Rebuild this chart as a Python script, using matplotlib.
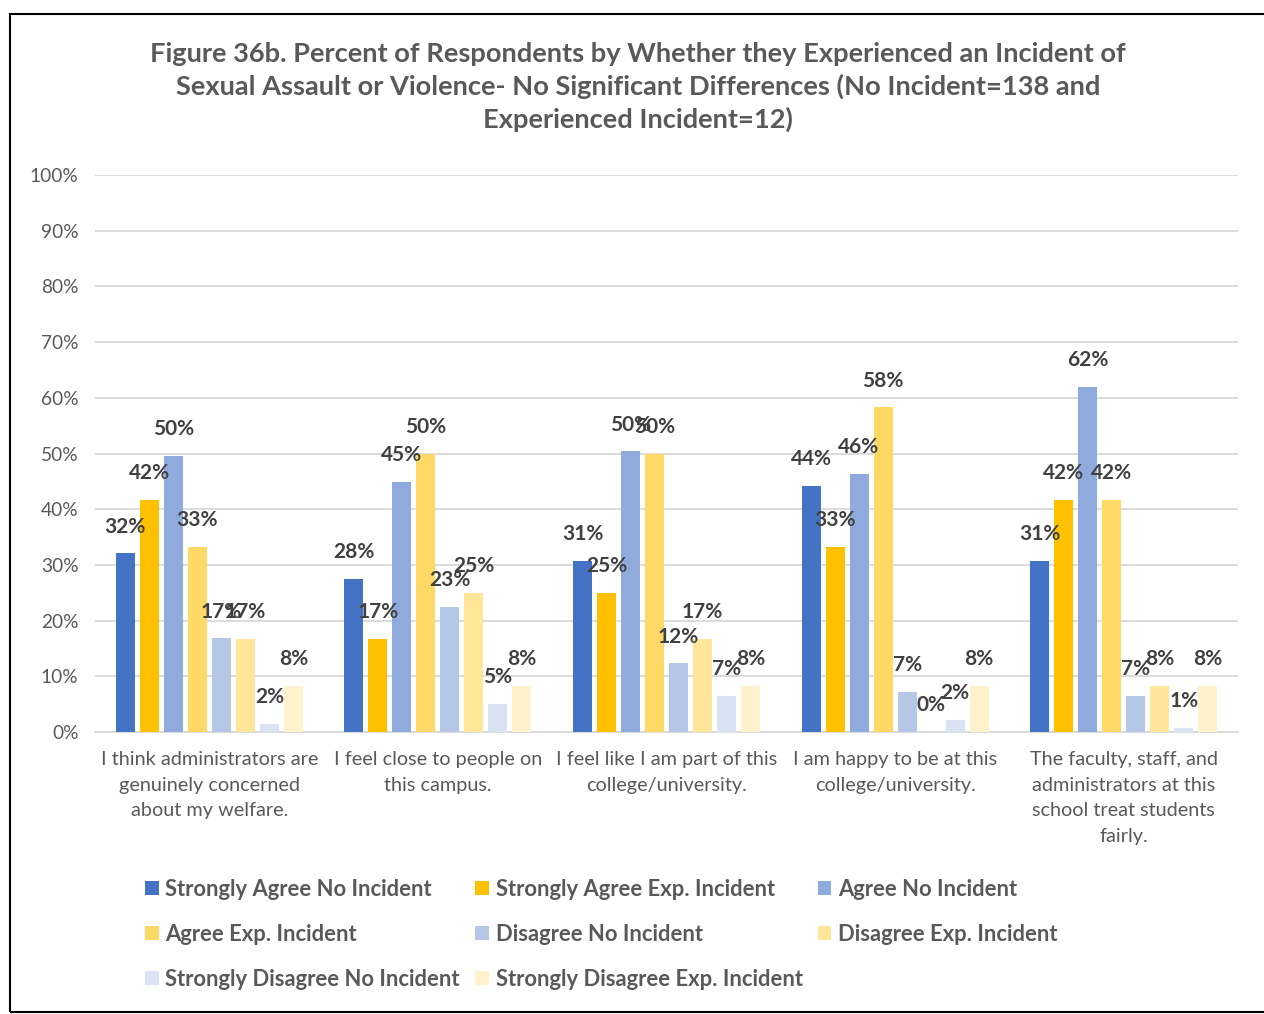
import matplotlib.pyplot as plt
import matplotlib.patches as mpatches
import numpy as np

plt.rcParams['font.family'] = ['Lato', 'DejaVu Sans']

categories = ['I think administrators are\ngenuinely concerned\nabout my welfare.',
              'I feel close to people on\nthis campus.',
              'I feel like I am part of this\ncollege/university.',
              'I am happy to be at this\ncollege/university.',
              'The faculty, staff, and\nadministrators at this\nschool treat students\nfairly.']
series_names = ['Strongly Agree No Incident', 'Strongly Agree Exp. Incident',
                'Agree No Incident', 'Agree Exp. Incident',
                'Disagree No Incident', 'Disagree Exp. Incident',
                'Strongly Disagree No Incident', 'Strongly Disagree Exp. Incident']
colors = ['#4472C4', '#FFC000', '#8FAADC', '#FFD966',
          '#B4C7E7', '#FFE699', '#DAE3F3', '#FFF2CC']

# percent values per series, one entry per category
sa_no = [32.1, 27.5, 30.7, 44.2, 30.7]
sa_exp = [41.7, 16.7, 25.0, 33.3, 41.7]
a_no = [49.6, 44.9, 50.4, 46.4, 62.0]
a_exp = [33.3, 50.0, 50.0, 58.3, 41.7]
d_no = [16.8, 22.5, 12.3, 7.2, 6.5]
d_exp = [16.7, 25.0, 16.7, 0.0, 8.3]
sd_no = [1.5, 5.1, 6.5, 2.2, 0.7]
sd_exp = [8.3, 8.3, 8.3, 8.3, 8.3]
label_text = [['32%', '28%', '31%', '44%', '31%'],
              ['42%', '17%', '25%', '33%', '42%'],
              ['50%', '45%', '50%', '46%', '62%'],
              ['33%', '50%', '50%', '58%', '42%'],
              ['17%', '23%', '12%', '7%', '7%'],
              ['17%', '25%', '17%', '0%', '8%'],
              ['2%', '5%', '7%', '2%', '1%'],
              ['8%', '8%', '8%', '8%', '8%']]
series = [sa_no, sa_exp, a_no, a_exp, d_no, d_exp, sd_no, sd_exp]

fig = plt.figure(figsize=(12.64, 10.14), dpi=100)
ax = fig.add_axes([0.0752, 0.2781, 0.9042, 0.5493])

x = np.arange(len(categories))
slot = 0.105
bw = 0.083
handles = []
for i, vals in enumerate(series):
    pos = x + (i - 3.5) * slot
    b = ax.bar(pos, vals, bw, color=colors[i], label=series_names[i], zorder=3)
    handles.append(b)
    for p, v, t in zip(pos, vals, label_text[i]):
        ax.text(p, v + 3.0, t, ha='center', va='bottom', fontsize=15,
                fontweight='bold', color='#404040', zorder=4)

ax.set_ylim(0, 100)
ax.set_xlim(-0.5, 4.5)
ax.set_yticks(np.arange(0, 101, 10))
ax.set_yticklabels([f'{v}%' for v in range(0, 101, 10)], fontsize=13.8, color='#595959')
ax.set_xticks(x)
ax.set_xticklabels(categories, fontsize=14.3, color='#595959', linespacing=1.6, va='top')
ax.tick_params(axis='both', length=0)
ax.tick_params(axis='x', pad=14)
ax.tick_params(axis='y', pad=12)
ax.grid(axis='y', color='#D9D9D9', lw=1.3, zorder=0)
for s in ['top', 'right', 'left']:
    ax.spines[s].set_visible(False)
ax.spines['bottom'].set_color('#D9D9D9')
ax.spines['bottom'].set_linewidth(1.3)

fig.text(0.505, 0.959, 'Figure 36b. Percent of Respondents by Whether they Experienced an Incident of\n'
         'Sexual Assault or Violence- No Significant Differences (No Incident=138 and\n'
         'Experienced Incident=12)', ha='center', va='top', fontsize=19.6,
         fontweight='bold', color='#595959', linespacing=1.38)

# legend is filled column by column, so reorder to get row-wise layout
order = [0, 3, 6, 1, 4, 7, 2, 5]
leg = fig.legend([handles[k] for k in order], [series_names[k] for k in order],
                 ncol=3, loc='upper left', bbox_to_anchor=(0.108, 0.142),
                 frameon=False, fontsize=15.8, handlelength=0.62, handleheight=0.62,
                 handletextpad=0.3, columnspacing=0.7, labelspacing=1.1,
                 borderaxespad=0)
for t in leg.get_texts():
    t.set_color('#595959')
    t.set_fontweight('bold')

fig.patches.append(mpatches.Rectangle((10 / 1264, 2 / 1014), 1.2, 998 / 1014,
                                      transform=fig.transFigure, fill=False,
                                      edgecolor='black', lw=1.5))

fig.savefig('out.png', dpi=100)
